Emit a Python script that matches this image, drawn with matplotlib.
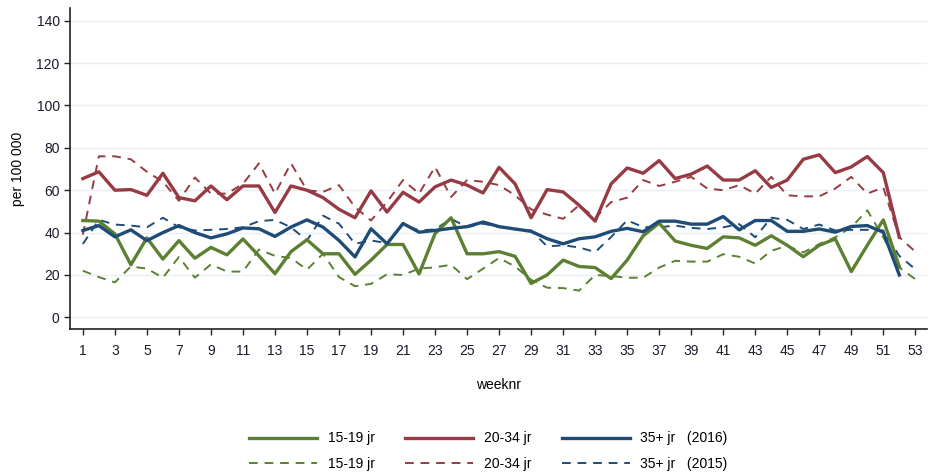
import numpy as np
import matplotlib
matplotlib.use("Agg")
import matplotlib.pyplot as plt

plt.rcParams['font.family'] = ['Liberation Sans', 'DejaVu Sans']

weeks_2016 = np.arange(1, 53)
weeks_2015 = np.arange(1, 54)

g16 = [45.7, 45.4, 39.4, 24.8, 37.5, 27.5, 36.2, 27.9, 33, 29.5, 37, 29, 20.6, 31, 36.6, 30, 30,
       20.3, 27, 34.4, 34.4, 20.5, 39.5, 47, 30, 30, 31, 28.8, 16, 20, 27, 24, 23.5, 18.3, 27, 38.5,
       44.5, 36, 34, 32.5, 38, 37.5, 34, 38.5, 34, 28.6, 34, 37, 21.6, 34, 46, 24]
g15 = [22, 19, 16.5, 24, 23, 18.7, 28.5, 18.7, 25, 21.6, 21.6, 32, 29, 28, 22.5, 30, 19, 14.7,
       15.8, 20.3, 20, 23, 23.6, 24.8, 18, 23, 28, 24, 17.7, 14, 13.8, 12.6, 20, 19.5, 18.7, 18.7,
       23.5, 26.7, 26.3, 26.3, 29.8, 28.6, 25.4, 31.4, 33.8, 30.6, 34.6, 37.8, 42.5, 50.5, 37.8,
       23.5, 18]
r16 = [65.5, 68.7, 60, 60.3, 57.6, 68, 56.5, 55, 62, 55.5, 62, 62, 49.5, 62, 60, 56.5, 51, 47,
       59.7, 49.7, 59, 54.4, 61.6, 64.8, 62.4, 58.7, 70.8, 63, 47, 60.3, 59.2, 52.9, 45.4, 63, 70.5,
       68, 74, 65.5, 67.6, 71.4, 64.8, 64.8, 69.2, 61.3, 64.8, 74.6, 76.7, 68.3, 71, 75.9, 68.3, 37.8]
r15 = [39, 76, 76, 74.6, 68.7, 64, 55, 66, 58.4, 58.4, 63, 72.7, 58.4, 72.7, 60, 59.2, 62.4, 52,
       45.7, 54.4, 64.8, 58.4, 71, 56.8, 64.8, 64, 62.4, 57.6, 51, 48.5, 46.5, 52.9, 47, 54.4, 56.5,
       64.8, 62, 64, 66.3, 60.8, 60, 62.4, 58.4, 66.3, 57.6, 57.1, 57.1, 60.8, 66.3, 58.4, 61.3,
       37.8, 31]
b16 = [41, 43.3, 38, 41.3, 36.2, 40, 43.3, 40, 37.5, 39.4, 42.2, 41.8, 38.2, 42.6, 46, 42.6, 36.3,
       28.5, 41.8, 34.7, 44.3, 40.2, 41, 42, 42.8, 45, 42.8, 41.7, 40.6, 37.1, 34.7, 37.1, 38, 40.6,
       42, 40.4, 45.4, 45.4, 44, 44, 47.6, 41.3, 45.7, 45.7, 40.6, 40.6, 41.7, 40.2, 42.9, 43.3,
       40.2, 20]
b15 = [34.6, 46, 43.8, 43.3, 42.5, 47, 42.5, 41, 41.3, 41.7, 42.5, 45.4, 46, 42.5, 36.3, 48, 44.2,
       34.7, 36.3, 35, 44, 41, 41.5, 46.5, 42.6, 44.2, 42.8, 41.5, 41, 33.5, 34, 33, 30.8, 37.9, 45.8,
       42.6, 42.5, 43.3, 42.2, 41.7, 42.5, 44, 37.8, 47, 46, 41.7, 43.8, 41, 41.3, 41.3, 41, 29, 22.7]

groups = ["15-19 jr", "20-34 jr", "35+ jr"]
green = "#5B8032"
red = "#963A43"
blue = "#1F4C77"

fig = plt.figure(figsize=(9.34, 4.72), dpi=100)
ax = fig.add_axes([0.075, 0.303, 0.917, 0.68])

dash = (4.5, 3.5)
ld15 = []
ld16 = []
for vals, c, lab in zip([g15, r15, b15], [green, red, blue], groups):
    l, = ax.plot(weeks_2015, vals, color=c, lw=1.4, dashes=dash, label=lab)
    ld15.append(l)
for vals, c, lab in zip([g16, r16, b16], [green, red, blue], groups):
    l, = ax.plot(weeks_2016, vals, color=c, lw=2.4, label=lab)
    ld16.append(l)

ax.set_xlim(0.2, 53.7)
ax.set_ylim(-5.5, 146)
ax.set_yticks(range(0, 141, 20))
ax.set_xticks(range(1, 54, 2))
ax.grid(axis='y', color='#E8EEF2', lw=1)
ax.set_axisbelow(True)
for s in ['top', 'right']:
    ax.spines[s].set_visible(False)
for s in ['left', 'bottom']:
    ax.spines[s].set_color('#222222')
    ax.spines[s].set_linewidth(1.2)
ax.tick_params(axis='both', labelsize=10, colors='#222222', length=4, width=1, labelcolor='#1a1a2a')
ax.tick_params(axis='x', pad=7)
ax.set_ylabel("per 100 000", fontsize=10, labelpad=8)
ax.set_xlabel("weeknr", fontsize=10, labelpad=14)

labels = [groups[0], groups[1], groups[2] + "   (2016)",
          groups[0], groups[1], groups[2] + "   (2015)"]
handles = [ld16[0], ld16[1], ld16[2], ld15[0], ld15[1], ld15[2]]
order = [0, 3, 1, 4, 2, 5]
fig.legend([handles[i] for i in order], [labels[i] for i in order], ncol=3,
           loc='lower center', bbox_to_anchor=(0.523, -0.025), frameon=False, fontsize=10,
           handlelength=4.9, handletextpad=0.75, columnspacing=2.2, labelspacing=0.85)

fig.savefig("out.png", dpi=100)
